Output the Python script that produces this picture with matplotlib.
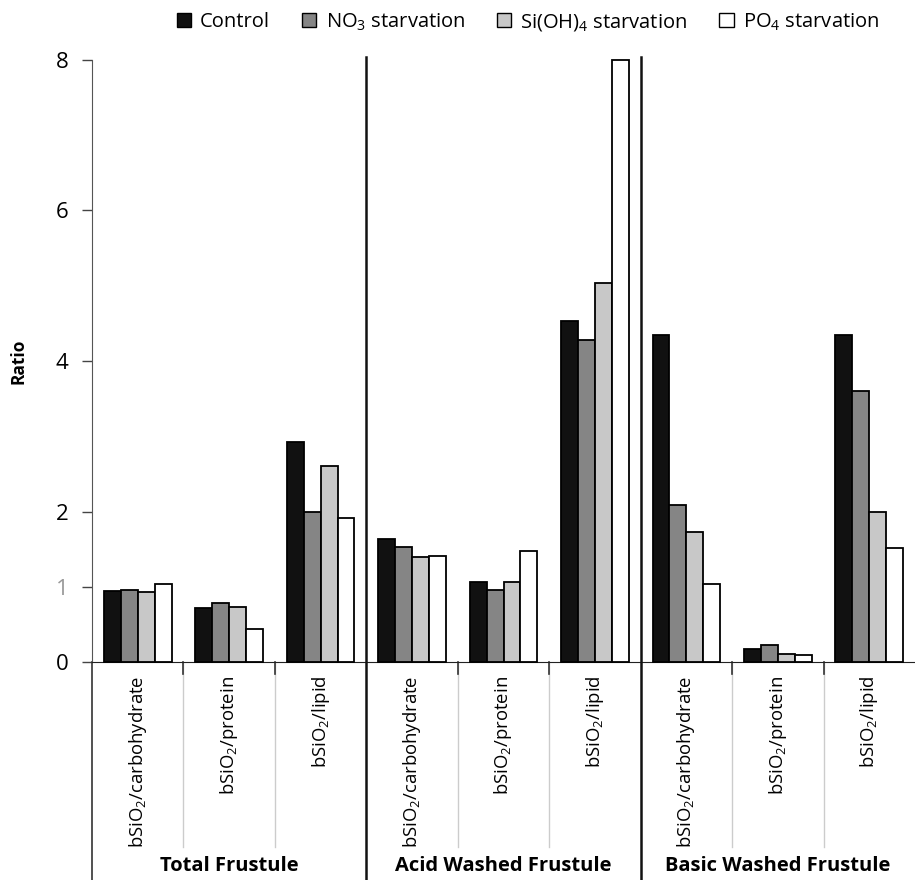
import numpy as np
import matplotlib
matplotlib.use("Agg")
import matplotlib.pyplot as plt
from matplotlib.patches import Patch

plt.rcParams['font.family'] = ['Open Sans', 'DejaVu Sans']
plt.rcParams['mathtext.fontset'] = 'custom'
plt.rcParams['mathtext.rm'] = 'Open Sans'

# data
groups = ["Total Frustule", "Acid Washed Frustule", "Basic Washed Frustule"]
ratios = [r"bSiO$_\mathregular{2}$/carbohydrate", r"bSiO$_\mathregular{2}$/protein",
          r"bSiO$_\mathregular{2}$/lipid"]
series = ["Control", r"NO$_\mathregular{3}$ starvation",
          r"Si(OH)$_\mathregular{4}$ starvation", r"PO$_\mathregular{4}$ starvation"]
colors = ["#111111", "#858585", "#c8c8c8", "#ffffff"]

control = [0.94, 0.72, 2.92, 1.64, 1.06, 4.53, 4.35, 0.17, 4.35]
no3     = [0.96, 0.78, 2.00, 1.53, 0.96, 4.28, 2.09, 0.23, 3.60]
sioh4   = [0.93, 0.73, 2.61, 1.40, 1.06, 5.03, 1.73, 0.11, 2.00]
po4     = [1.04, 0.44, 1.92, 1.41, 1.48, 8.00, 1.04, 0.09, 1.52]
values = [control, no3, sioh4, po4]

yticks = [0, 1, 2, 4, 6, 8]

fig = plt.figure(figsize=(9.15, 8.8), dpi=100)
ax = fig.add_axes([92 / 915, 1 - 662 / 880, 1 - 92 / 915, (662 - 60) / 880])

x = np.arange(len(control))
w = 0.185
for i, (vals, c) in enumerate(zip(values, colors)):
    ax.bar(x + (i - 1.5) * w, vals, w, color=c, edgecolor="black", linewidth=1.3,
           clip_on=False, zorder=3)

ax.set_xlim(-0.5, 8.5)
ax.set_ylim(0, 8)
ax.set_yticks(yticks)
ax.set_yticklabels([str(t) for t in yticks], fontsize=16)
ax.tick_params(axis="y", length=7, width=1, pad=10, color="#444444")
for lab, t in zip(ax.get_yticklabels(), yticks):
    if t == 1:
        lab.set_color("#999999")
ax.yaxis.get_ticklines()[2].set_color("#aaaaaa")

ax.set_xticks(x)
ax.set_xticklabels(ratios * 3, rotation=90, fontsize=13.3, va="top", ha="center")
ax.tick_params(axis="x", length=0, pad=10)

for s in ["top", "right"]:
    ax.spines[s].set_visible(False)
ax.spines["left"].set_color("#555555")
ax.spines["bottom"].set_color("#222222")

ax.set_ylabel("Ratio", fontsize=12.5, fontweight="bold", labelpad=20)

trans = ax.get_xaxis_transform()
bottom = -218 / 602
# left axis extended below
ax.plot([-0.5, -0.5], [bottom, 0], color="#333333", lw=1.2, transform=trans, clip_on=False)
# thick group separators
for xs in [2.5, 5.5]:
    ax.plot([xs, xs], [bottom, 1.005], color="#111111", lw=1.8, transform=trans,
            clip_on=False, zorder=4)
# thin category separators
for xs in [0.5, 1.5, 3.5, 4.5, 6.5, 7.5]:
    ax.plot([xs, xs], [-185 / 602, 0], color="#cccccc", lw=1, transform=trans, clip_on=False)
    ax.plot([xs, xs], [-12 / 602, 0], color="#333333", lw=1.2, transform=trans, clip_on=False)

for gi, g in enumerate(groups):
    ax.text(gi * 3 + 1, -194 / 602, g, transform=trans, ha="center", va="top",
            fontsize=14.5, fontweight="bold")

handles = [Patch(facecolor=c, edgecolor="black", linewidth=1) for c in colors]
fig.legend(handles, series, loc="center", bbox_to_anchor=(0.577, 0.975), ncol=4,
           frameon=False, fontsize=14.5, handlelength=0.7, handleheight=0.7,
           handletextpad=0.45, columnspacing=1.6)

fig.savefig("out.png", dpi=100)
